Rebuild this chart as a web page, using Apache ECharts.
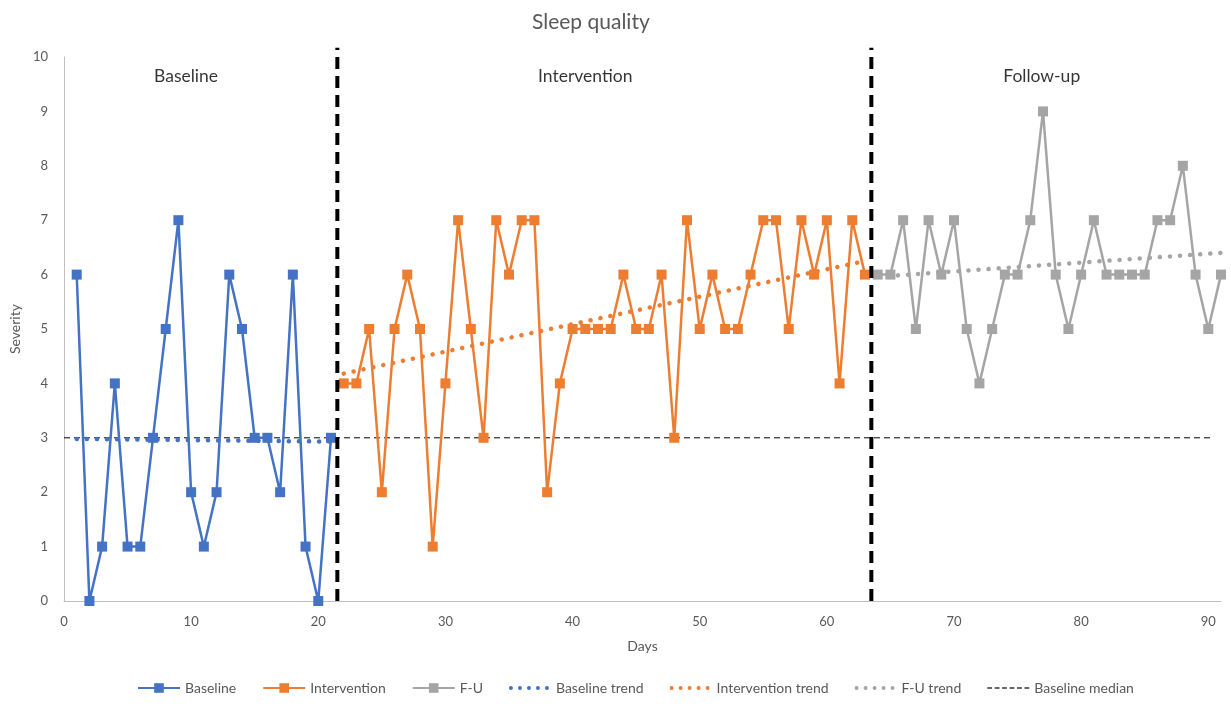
<!DOCTYPE html>
<html>
<head>
<meta charset="utf-8">
<script src="https://cdn.jsdelivr.net/npm/echarts@6/dist/echarts.min.js"></script>
<style>html,body{margin:0;padding:0;background:#fff}#c{width:1231px;height:714px}</style>
</head>
<body>
<div id="c"></div>
<script>
// ---- data ----
const baselineDays = [1,2,3,4,5,6,7,8,9,10,11,12,13,14,15,16,17,18,19,20,21];
const baselineValues = [6,0,1,4,1,1,3,5,7,2,1,2,6,5,3,3,2,6,1,0,3];
const interventionDays = [22,23,24,25,26,27,28,29,30,31,32,33,34,35,36,37,38,39,40,41,42,43,44,45,46,47,48,49,50,51,52,53,54,55,56,57,58,59,60,61,62,63];
const interventionValues = [4,4,5,2,5,6,5,1,4,7,5,3,7,6,7,7,2,4,5,5,5,5,6,5,5,6,3,7,5,6,5,5,6,7,7,5,7,6,7,4,7,6];
const fuDays = [64,65,66,67,68,69,70,71,72,73,74,75,76,77,78,79,80,81,82,83,84,85,86,87,88,89,90,91];
const fuValues = [6,6,7,5,7,6,7,5,4,5,6,6,7,9,6,5,6,7,6,6,6,6,7,7,8,6,5,6];
const baselineTrend = [[1,2.98],[21,2.93]];
const interventionTrend = [[22,4.18],[63,6.25]];
const fuTrend = [[64,5.96],[91,6.40]];
const baselineMedian = [[0,3],[90.3,3]];
const phaseBoundaries = [21.5, 63.5];
const phaseNames = ['Baseline','Intervention','Follow-up'];
const phaseLabelX = [9.6, 41.0, 76.9];
const xTicks = [0,10,20,30,40,50,60,70,80,90];
const yTicks = [0,1,2,3,4,5,6,7,8,9,10];

const zip = (xs, ys) => xs.map((x,i)=>[x, ys[i]]);
const FONT = 'Lato, "Open Sans", sans-serif';
const BLUE = '#4472C4', ORANGE = '#ED7D31', GRAY = '#A5A5A5';

// legend icon shapes
function dotsPath(){
  let p = '';
  for (let i=0;i<5;i++){ const cx = 2 + i*9; p += `M${cx-2},2 A2,2 0 1,0 ${cx+2},2 A2,2 0 1,0 ${cx-2},2 Z `; }
  return 'path://' + p + 'M0,0 L0,0 M42,4 L42,4';
}
function dashPath(){
  let p = '';
  for (let i=0;i<6;i++){ const x = i*7; p += `M${x},0 L${x+4.5},0 L${x+4.5},1.3 L${x},1.3 Z `; }
  return 'path://' + p;
}

const chart = echarts.init(document.getElementById('c'), null, {renderer:'canvas'});

function dataSeries(name, color, data){
  return {name, type:'line', data, symbol:'rect', symbolSize:10, color,
    lineStyle:{width:2.5, color}, itemStyle:{color}, z:5, animation:false};
}
function trendSeries(name, color, data){
  return {name, type:'line', data, symbol:'none', color,
    lineStyle:{width:4.5, color, type:[0.1,10], cap:'round'}, itemStyle:{color}, z:4, animation:false};
}

const series = [
  dataSeries('Baseline', BLUE, zip(baselineDays, baselineValues)),
  dataSeries('Intervention', ORANGE, zip(interventionDays, interventionValues)),
  dataSeries('F-U', GRAY, zip(fuDays, fuValues)),
  trendSeries('Baseline trend', BLUE, baselineTrend),
  trendSeries('Intervention trend', ORANGE, interventionTrend),
  trendSeries('F-U trend', GRAY, fuTrend),
  {name:'Baseline median', type:'line', data:baselineMedian, symbol:'none', color:'#333',
   lineStyle:{width:1, color:'#000', type:[6,4]}, z:3, animation:false},
];
phaseBoundaries.forEach((b,i)=>{
  series.push({name:'phase'+i, type:'line', data:[[b,0],[b,10.17]], symbol:'none', clip:false,
    lineStyle:{width:4, color:'#000', type:[12,7]}, z:6, animation:false, silent:true});
});
series.push({name:'phaseLabels', type:'scatter', symbolSize:0, silent:true, animation:false,
  data: phaseNames.map((n,i)=>({value:[phaseLabelX[i], 9.65], name:n})),
  label:{show:true, position:'inside', formatter:p=>p.name, color:'#000', fontSize:17.5, fontFamily:FONT}});

chart.setOption({
  backgroundColor:'#fff',
  animation:false,
  title:{text:'Sleep quality', left:527, top:7, textStyle:{color:'#595959', fontSize:21, fontWeight:'normal', fontFamily:FONT}},
  grid:{left:63, right:10, top:57, bottom:113, containLabel:false},
  legend:{bottom:14, left:132, itemWidth:42, itemHeight:12, itemGap:26,
    data:['Baseline','Intervention','F-U',
      {name:'Baseline trend', icon:dotsPath()},
      {name:'Intervention trend', icon:dotsPath()},
      {name:'F-U trend', icon:dotsPath()},
      {name:'Baseline median', icon:dashPath()}],
    textStyle:{color:'#595959', fontSize:14, fontFamily:FONT}},
  xAxis:{type:'value', min:0, max:91, interval:10, name:'Days', nameLocation:'middle', nameGap:38,
    nameTextStyle:{color:'#595959', fontSize:14, fontFamily:FONT},
    axisLine:{show:true, lineStyle:{color:'#BFBFBF', width:1}}, axisTick:{show:false}, splitLine:{show:false},
    axisLabel:{color:'#595959', fontSize:13, fontFamily:FONT, margin:14,
      formatter:v=> xTicks.includes(v) ? String(v) : ''}},
  yAxis:{type:'value', min:0, max:10, interval:1, name:'Severity', nameLocation:'middle', nameGap:34,
    nameTextStyle:{color:'#595959', fontSize:14, fontFamily:FONT},
    axisLine:{show:true, lineStyle:{color:'#BFBFBF', width:1}}, axisTick:{show:false}, splitLine:{show:false},
    axisLabel:{color:'#595959', fontSize:13, fontFamily:FONT, margin:16,
      formatter:v=> yTicks.includes(v) ? String(v) : ''}},
  series
});
</script>
</body>
</html>
